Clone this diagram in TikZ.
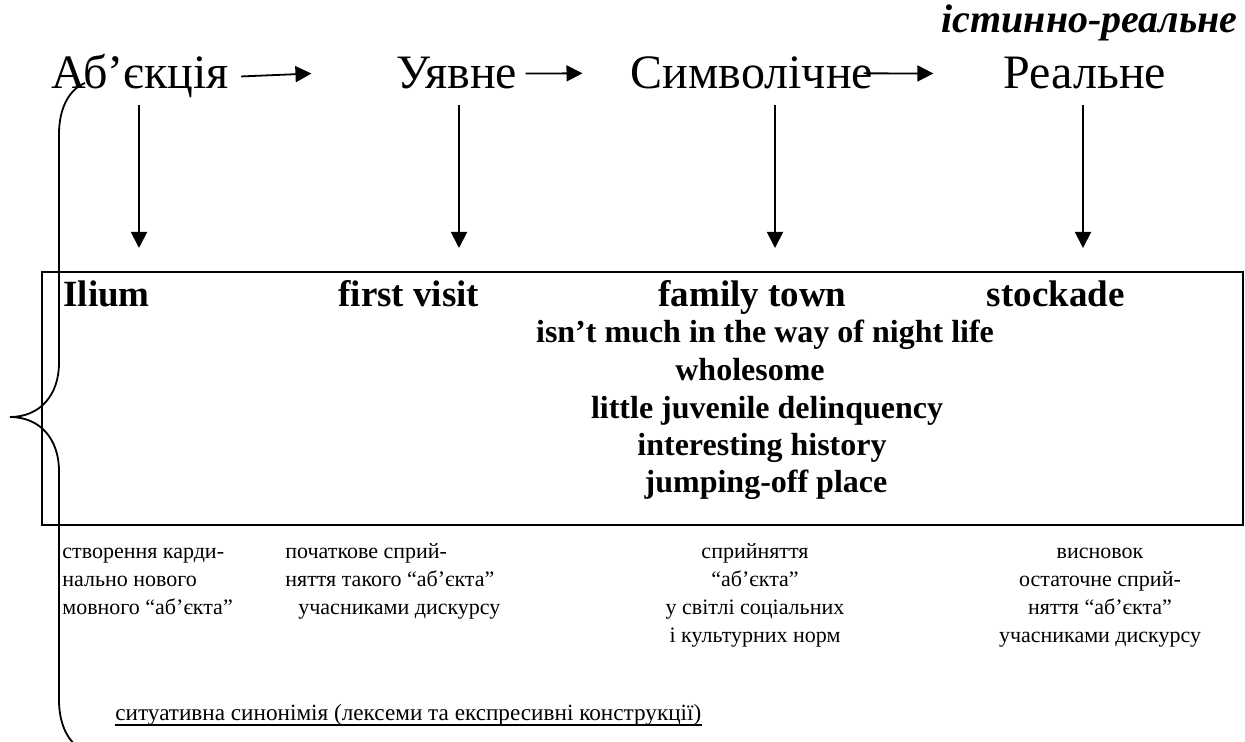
\documentclass[tikz,border=0pt]{standalone}
\usepackage{fontspec}
\setmainfont{Liberation Serif}
\usetikzlibrary{arrows.meta,calc}

\begin{document}
\begin{tikzpicture}[x=0.5pt,y=0.5pt,yscale=-1,xscale=1,
		stage/.style={anchor=base, inner sep=0pt, font=\fontsize{24}{28}\selectfont},
		head/.style={anchor=base west, inner sep=0pt, font=\fontsize{18.5}{22}\selectfont\bfseries},
		item/.style={anchor=base, inner sep=0pt, font=\fontsize{16}{19}\selectfont\bfseries},
		note/.style={inner sep=0pt, font=\fontsize{11}{14}\selectfont},
		flow/.style={line width=0.9pt, -{Triangle[length=8pt,width=8pt]}}]
		\useasboundingbox (0,0) rectangle (1245,742);

		% stages
		\node[stage] (abj) at (140,89) {Аб’єкція};
		\node[stage] (uyav) at (457,89) {Уявне};
		\node[stage] (symv) at (752,89) {Символічне};
		\node[stage] (real) at (1085,89) {Реальне};
		\node[anchor=base east, inner sep=0pt, font=\fontsize{20}{24}\selectfont\bfseries\itshape] (truth) at (1238,33) {істинно-реальне};

		\draw [flow] ([xshift=6pt]abj.east) -- ([xshift=-42.5pt]uyav.west);
		\draw [flow] ([xshift=4pt]uyav.east) -- ([xshift=-24pt]symv.west);
		\draw [flow] ([xshift=-5pt]symv.east) -- ([xshift=-35pt]real.west);

		\coordinate (d1) at (139,248);
		\coordinate (d2) at (459,248);
		\coordinate (d3) at (775,248);
		\coordinate (d4) at (1083,248);
		\draw [flow] ($(abj.base -| d1)+(0,16)$) -- (d1);
		\draw [flow] ($(uyav.base -| d2)+(0,16)$) -- (d2);
		\draw [flow] ($(symv.base -| d3)+(0,16)$) -- (d3);
		\draw [flow] ($(real.base -| d4)+(0,16)$) -- (d4);

		% box with examples
		\draw [line width=0.9pt] (42,272) rectangle (1243,525);
		\node[head] (ilium) at (63,307) {Ilium};
		\node[head] (visit) at (338,307) {first visit};
		\node[head] (town) at (658,307) {family town};
		\node[head, anchor=base east] (stock) at (1125,307) {stockade};

		\node[item] (l1) at (765,343) {isn’t much in the way of night life};
		\node[item] (l2) at (750,380) {wholesome};
		\node[item] (l3) at (767,418) {little juvenile delinquency};
		\node[item] (l4) at (762,455) {interesting history};
		\node[item] (l5) at (766,492) {jumping-off place};

		% comments under the box (base = last line)
		\node[note, align=left, anchor=base west] (n1) at (62,614) {створення карди-\\нально нового\\мовного “аб’єкта”};
		\node[note, align=left, anchor=base west] (n2) at (285,614) {початкове сприй-\\няття такого “аб’єкта”\\\hspace*{6.5pt}учасниками дискурсу};
		\node[note, align=center, anchor=base] (n3) at (755,642) {сприйняття\\“аб’єкта”\\у світлі соціальних\\і культурних норм};
		\node[note, align=center, anchor=base] (n4) at (1100,642) {висновок\\остаточне сприй-\\няття “аб’єкта”\\учасниками дискурсу};

		\node[note, anchor=base west, font=\fontsize{11.6}{14}\selectfont] (syn) at (115,720) {ситуативна синонімія (лексеми та експресивні конструкції)};
		\draw [line width=0.6pt] ([yshift=2.5pt]syn.base west) -- ([yshift=2.5pt]syn.base east);

		% brace
		\begin{scope}
			\clip (0,0) rectangle (1245,742);
			\draw [line width=0.9pt] (85,83) .. controls (68,90) and (59,110) .. (59,134) -- (59,363)
				.. controls (59,395) and (40,417) .. (10,417)
				.. controls (40,417) and (59,439) .. (59,471) -- (59,700)
				.. controls (59,724) and (68,744) .. (85,751);
		\end{scope}
\end{tikzpicture}
\end{document}
